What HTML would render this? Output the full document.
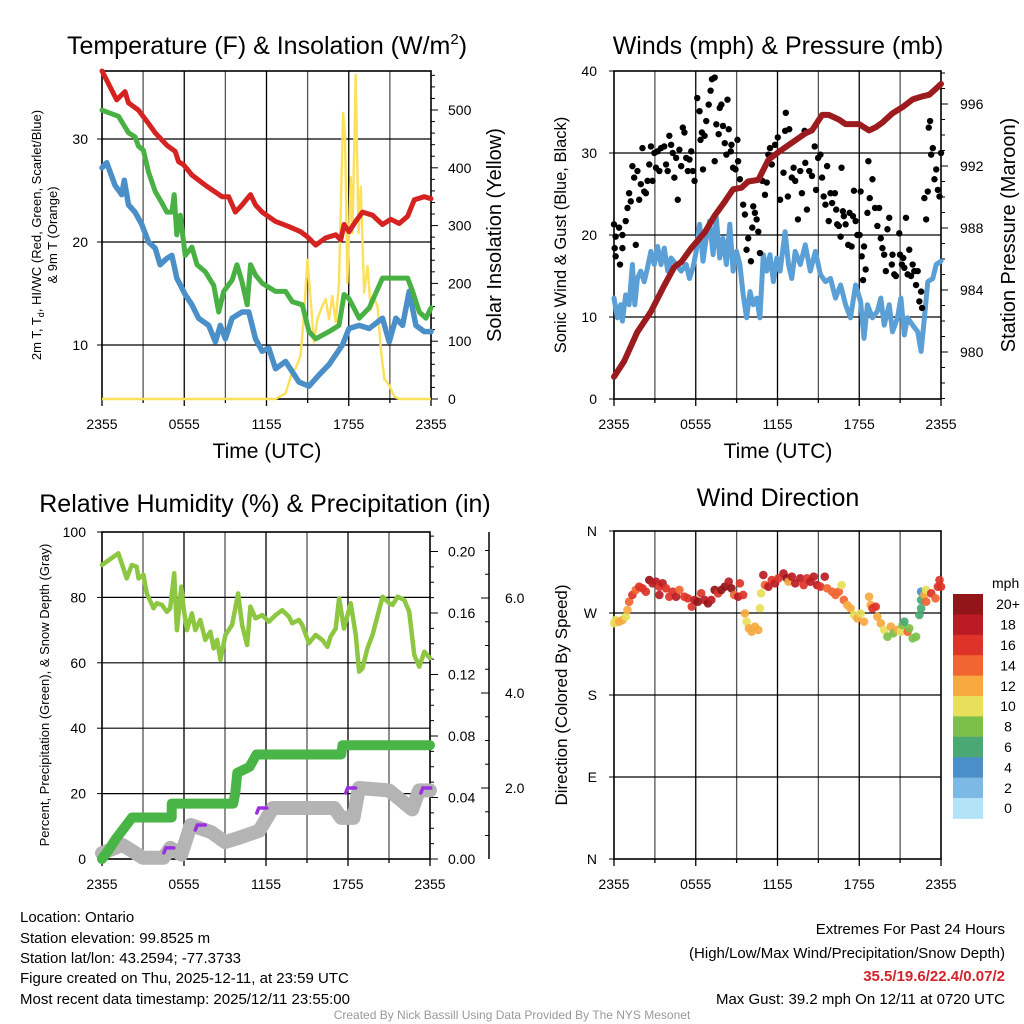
<!DOCTYPE html>
<html><head><meta charset="utf-8"><title>Mesonet Station Meteogram</title>
<style>
html,body{margin:0;padding:0;background:#fff;}
svg{display:block;font-family:"Liberation Sans",sans-serif;}
</style></head>
<body>
<svg id="chart" width="1024" height="1024" viewBox="0 0 1024 1024" xmlns="http://www.w3.org/2000/svg">
<rect width="1024" height="1024" fill="#fff"/>
<g id="layer"></g>
<!-- titles -->
<text x="267" y="54" font-size="25" text-anchor="middle">Temperature (F) &amp; Insolation (W/m<tspan font-size="15" dy="-10">2</tspan><tspan dy="10">)</tspan></text>
<text x="778" y="54" font-size="25" text-anchor="middle">Winds (mph) &amp; Pressure (mb)</text>
<text x="265" y="512" font-size="25" text-anchor="middle">Relative Humidity (%) &amp; Precipitation (in)</text>
<text x="778" y="506" font-size="25" text-anchor="middle">Wind Direction</text>
<!-- axis titles -->
<text x="267" y="458" font-size="21" text-anchor="middle">Time (UTC)</text>
<text x="778" y="458" font-size="21" text-anchor="middle">Time (UTC)</text>
<text transform="translate(41,235) rotate(-90)" font-size="13" text-anchor="middle">2m T, T<tspan font-size="9" dy="3">d</tspan><tspan dy="-3">, HI/WC (Red, Green, Scarlet/Blue)</tspan></text>
<text transform="translate(57,235) rotate(-90)" font-size="13" text-anchor="middle">&amp; 9m T (Orange)</text>
<text transform="translate(501,235) rotate(-90)" font-size="20" text-anchor="middle">Solar Insolation (Yellow)</text>
<text transform="translate(566,235) rotate(-90)" font-size="16.5" text-anchor="middle">Sonic Wind &amp; Gust (Blue, Black)</text>
<text transform="translate(1015,235) rotate(-90)" font-size="20" text-anchor="middle">Station Pressure (Maroon)</text>
<text transform="translate(49,695) rotate(-90)" font-size="13" text-anchor="middle">Percent, Precipitation (Green), &amp; Snow Depth (Gray)</text>
<text transform="translate(567,695) rotate(-90)" font-size="17" text-anchor="middle">Direction (Colored By Speed)</text>
<!-- footer -->
<g font-size="15">
<text x="20" y="922">Location: Ontario</text>
<text x="20" y="943">Station elevation: 99.8525 m</text>
<text x="20" y="963">Station lat/lon: 43.2594; -77.3733</text>
<text x="20" y="983">Figure created on Thu, 2025-12-11, at 23:59 UTC</text>
<text x="20" y="1004">Most recent data timestamp: 2025/12/11 23:55:00</text>
</g>
<g font-size="15" text-anchor="end">
<text x="1005" y="934">Extremes For Past 24 Hours</text>
<text x="1005" y="958">(High/Low/Max Wind/Precipitation/Snow Depth)</text>
<text x="1005" y="981" fill="#d2232a" font-weight="bold">35.5/19.6/22.4/0.07/2</text>
<text x="1005" y="1004">Max Gust: 39.2 mph On 12/11 at 0720 UTC</text>
</g>
<text x="512" y="1019" font-size="12" fill="#999" text-anchor="middle">Created By Nick Bassill Using Data Provided By The NYS Mesonet</text>
</svg>
<script>
// ---------- data ----------
const xTickLabels = ["2355","0555","1155","1755","2355"];
// Panel 1
const tempTicks = [10,20,30];
const solarTicks = [0,100,200,300,400,500];
const redH = [0,1.07,1.68,1.93,2.66,3.39,3.88,4.73,5.34,5.59,5.95,6.56,7.54,8.76,9.24,9.73,10.22,10.83,11.2,11.68,12.66,13.63,14.49,14.98,15.59,16.32,17.05,17.41,17.66,18.02,18.51,19.0,19.73,20.46,21.07,21.68,22.29,22.78,23.51,24];
const redT = [36.6,33.8,34.6,33.5,32.8,31.5,30.6,29.4,28.8,27.8,27.5,26.5,25.5,24.4,24.4,22.9,23.6,24.6,23.6,22.9,22.0,21.5,21.0,20.5,19.7,20.4,20.7,20.2,21.7,21.0,22.0,22.9,22.6,21.7,22.2,21.8,22.5,24.1,24.4,24.2];
const greenH = [0,1.2,1.93,2.41,2.66,3.02,3.39,3.88,4.37,4.73,5.1,5.27,5.46,5.71,6.07,6.56,6.93,7.54,8.15,8.51,8.88,9.49,9.85,10.22,10.59,10.83,11.2,11.68,12.66,13.39,13.88,14.61,15.1,15.59,16.56,17.29,17.66,18.02,18.76,19.49,20.46,21.44,22.29,22.66,23.15,23.63,24];
const greenT = [32.8,32.2,30.6,30.2,29.3,28.9,26.8,24.9,23.8,22.9,22.9,24.6,20.7,22.6,18.7,19.5,17.8,17.1,15.8,13.2,15.2,16.3,17.8,16.1,13.9,17.8,16.8,16.0,15.2,15.2,14.2,13.9,11.3,10.6,11.3,11.9,14.9,14.5,12.6,13.6,16.5,16.5,16.5,15.2,13.2,12.6,13.6];
const blueH = [0,0.34,0.95,1.44,1.63,1.93,2.41,2.9,3.39,3.88,4.24,4.73,5.1,5.46,6.07,6.56,7.05,7.78,8.27,8.63,9.0,9.49,10.22,10.71,11.2,11.68,12.17,12.66,13.39,13.88,14.37,15.1,15.83,16.56,17.54,18.02,18.76,19.49,20.46,20.95,21.44,21.93,22.41,22.9,23.51,24];
const blueT = [27.2,27.7,25.5,24.6,26.0,23.6,22.9,21.7,20.0,19.4,17.8,18.4,18.7,16.5,14.9,13.9,12.6,11.9,10.3,11.9,10.6,12.6,13.2,13.2,10.6,9.4,9.7,7.7,8.4,7.4,6.4,6.0,7.1,8.1,10.0,11.6,11.9,11.6,12.6,10.3,12.6,11.9,15.2,11.9,11.3,11.3];
const solarH = [0,12.66,13.39,13.88,14.12,14.49,14.73,14.98,15.22,15.46,15.71,16.07,16.32,16.56,16.8,17.05,17.29,17.59,17.73,17.9,18.15,18.27,18.51,18.71,18.88,19.12,19.37,19.61,19.85,20.1,20.34,20.59,20.95,21.32,21.68,24];
const solarW = [0,0,10,47,53,75,144,241,173,98,138,161,173,138,178,133,201,495,458,201,384,287,561,287,367,184,230,155,173,161,87,35,24,4,0,0];
// Panel 2
const windTicks = [0,10,20,30,40];
const pressTicks = [980,984,988,992,996];
const pressH = [0,0.74,1.72,2.71,3.69,4.43,4.93,5.67,6.65,7.39,8.13,8.74,9.36,9.85,10.59,11.33,12.07,13.05,14.04,14.53,15.27,15.76,16.5,17.0,17.98,18.72,19.21,19.7,20.44,21.18,21.92,22.66,23.15,23.65,24];
const pressMb = [978.4,979.4,981.3,982.6,984.3,985.5,985.8,986.7,987.7,988.8,989.7,990.5,990.6,991.0,991.1,992.4,992.9,993.5,994.1,994.3,995.3,995.3,995.0,994.7,994.7,994.3,994.5,994.8,995.4,995.8,996.3,996.5,996.6,997.0,997.3];
const windH = [0,0.25,0.49,0.62,0.86,1.11,1.35,1.53,1.72,1.97,2.22,2.46,2.71,2.96,3.2,3.45,3.69,3.94,4.19,4.56,4.93,5.3,5.54,5.79,6.03,6.28,6.53,6.77,7.02,7.27,7.51,7.76,8.0,8.25,8.5,8.74,8.99,9.24,9.48,9.73,9.98,10.22,10.47,10.71,10.96,11.21,11.45,11.7,11.95,12.19,12.56,12.81,13.05,13.3,13.67,14.04,14.41,14.78,15.15,15.52,15.89,16.26,16.63,17.0,17.36,17.73,18.1,18.35,18.6,18.97,19.33,19.58,19.83,20.2,20.44,20.81,21.06,21.31,21.55,21.92,22.29,22.54,22.78,23.03,23.4,23.65,24];
const windMph = [12.3,9.9,11.5,9.5,12.7,11.5,16.4,11.5,14.7,15.6,14.3,16.0,18.0,16.4,18.6,16.4,18.4,15.6,17.2,16.4,15.6,16.4,14.7,16.0,18.0,21.3,16.8,19.6,21.7,17.6,22.1,17.2,19.6,16.4,21.3,15.6,18.0,16.4,12.7,9.9,13.1,11.5,12.3,9.9,17.6,15.6,17.6,14.3,17.2,15.6,20.4,16.4,14.7,18.0,16.4,18.8,15.6,18.0,15.2,14.3,14.7,12.3,13.9,11.5,9.9,13.9,11.9,7.4,11.5,9.9,10.7,12.3,9.0,11.5,8.2,9.9,12.3,7.8,9.9,9.0,8.2,5.8,9.9,14.3,14.7,16.4,16.8];
const gustH = [0,0.12,0.05,0.12,0.37,0.44,0.62,0.62,0.86,0.99,1.11,1.23,1.35,1.48,1.6,1.72,1.85,1.97,2.09,2.22,2.34,2.46,2.59,2.71,2.83,2.96,3.08,3.2,3.33,3.45,3.69,3.82,3.94,4.06,4.19,4.31,4.43,4.56,4.68,4.8,4.93,5.05,5.17,5.3,5.42,5.54,5.67,5.79,5.91,6.11,6.28,6.35,6.45,6.53,6.65,6.77,6.95,7.09,7.19,7.39,7.39,7.51,7.68,7.76,7.88,8.0,8.13,8.25,8.33,8.42,8.57,8.62,8.74,8.92,9.06,9.11,9.24,9.48,9.61,9.73,9.85,10.05,10.15,10.22,10.34,10.47,10.59,10.71,10.89,11.08,11.21,11.33,11.45,11.58,11.82,12.02,12.19,12.44,12.56,12.61,12.76,12.86,13.05,13.18,13.3,13.5,13.67,13.79,13.99,14.04,14.16,14.33,14.53,14.73,14.83,14.98,15.15,15.27,15.39,15.52,15.64,15.76,15.89,16.01,16.21,16.31,16.38,16.5,16.63,16.7,16.8,16.87,17.0,17.19,17.29,17.44,17.54,17.61,17.73,17.86,18.03,18.1,18.18,18.28,18.35,18.47,18.6,18.67,18.77,18.97,19.16,19.33,19.46,19.58,19.7,19.83,19.95,20.07,20.2,20.39,20.44,20.57,20.69,20.94,20.99,21.13,21.23,21.31,21.43,21.55,21.67,21.8,21.92,22.04,22.17,22.29,22.41,22.54,22.61,22.78,22.91,23.03,23.1,23.2,23.28,23.4,23.52,23.65,23.77,23.89,24.0];
const gustMph = [21.3,19.8,18.4,17.4,20.9,16.4,20.0,18.4,21.7,23.3,25.1,24.1,28.4,27.0,18.8,27.8,24.3,26.2,30.6,25.3,25.1,26.6,28.6,30.8,26.6,30.0,28.2,30.2,27.8,30.6,30.8,28.6,27.8,32.1,31.0,30.0,27.0,29.4,24.3,30.4,28.4,33.1,32.5,29.4,27.8,29.2,30.2,27.8,26.6,36.7,35.1,31.6,32.5,28.0,32.1,33.9,35.9,37.6,39.0,39.2,29.0,33.5,32.3,35.5,35.9,33.3,31.2,29.8,36.5,32.9,30.2,31.0,28.2,28.0,31.6,29.0,26.8,23.7,22.5,18.2,19.6,16.8,20.9,23.5,22.7,21.9,20.4,17.8,26.6,24.9,26.4,29.8,30.6,28.6,31.0,31.9,24.3,27.6,32.7,34.9,24.7,32.9,27.0,28.2,26.6,21.9,27.8,25.1,32.7,28.8,23.1,27.8,27.2,30.8,25.5,29.4,29.8,27.0,24.7,23.7,28.4,21.7,25.1,23.9,25.1,23.1,21.3,21.1,19.8,28.2,22.9,22.3,21.3,18.8,22.7,18.6,22.3,25.4,21.7,20.0,20.0,25.3,17.4,14.5,18.6,15.8,22.7,29.0,24.5,26.8,23.3,21.1,23.3,19.6,18.4,17.6,15.6,20.7,22.1,16.4,17.6,15.2,15.0,20.2,17.6,16.4,17.2,16.0,22.1,15.2,18.2,15.0,16.4,15.6,13.9,15.6,11.9,13.1,11.1,24.5,21.9,25.3,33.1,33.9,29.8,30.6,26.8,28.0,25.5,24.7,30.0];
// Panel 3
const rhTicks = [0,20,40,60,80,100];
const precipTicks = ["0.00","0.04","0.08","0.12","0.16","0.20"];
const snowTicks = ["2.0","4.0","6.0"];
const rhH = [0,1.2,1.81,2.18,2.54,2.67,3.03,3.28,3.77,4.01,4.38,4.75,4.99,5.28,5.48,5.8,5.97,6.21,6.58,6.83,7.19,7.56,7.93,8.17,8.42,8.66,9.03,9.52,9.96,10.25,10.62,10.86,11.23,11.72,12.21,12.7,13.19,13.68,13.92,14.41,14.65,15.14,15.63,16.12,16.49,16.73,17.1,17.35,17.71,18.2,18.57,18.81,19.06,19.42,19.79,20.53,21.02,21.26,21.63,22.12,22.48,22.85,23.22,23.58,24];
const rhPct = [89.9,93.5,85.8,89.9,89.4,85.8,86.9,81.2,76.7,78.2,77.7,75.6,76.7,87.4,70.0,83.3,76.7,70.0,75.1,70.0,73.1,67.0,69.5,64.4,67.0,60.9,68.5,71.6,81.2,71.6,65.4,77.2,73.6,74.6,72.6,74.6,76.1,74.1,72.1,73.1,71.6,66.0,68.5,67.0,64.9,68.0,70.5,79.7,70.5,78.2,68.5,57.3,58.3,64.4,68.5,80.2,78.2,77.7,80.2,79.2,75.6,62.4,58.8,63.4,61.4];
const precipH = [0,0.5,1.0,1.6,2.2,5.1,5.1,9.6,9.75,9.9,10.8,11.3,17.5,17.6,24];
const precipIn = [0,0.006,0.013,0.02,0.027,0.027,0.036,0.036,0.043,0.056,0.060,0.068,0.068,0.074,0.074];
const snowH = [0,1.5,3,4.5,5,5.8,6.5,8,9,10,11.5,12.5,17,17.5,18.4,18.8,21,22.7,23.2,24];
const snowIn = [0.63,0.8,0.53,0.53,0.74,0.6,1.22,1.07,0.86,0.95,1.1,1.58,1.58,1.37,1.37,2.0,1.95,1.55,1.95,1.95];
const snowMarkH = [4.6,6.9,11.4,17.9,23.4];
const snowMarkV = [0.74,1.22,1.58,2.0,2.0];
// Panel 4
const dirLabels = ["N","W","S","E","N"];
const dirTicks = [360,270,180,90,0];
const speedBins = ["0","2","4","6","8","10","12","14","16","18","20+"];
const dirH = [0,0.12,0.37,0.62,0.86,0.99,1.11,1.35,1.6,1.85,2.09,2.34,2.59,2.83,3.08,3.33,3.33,3.57,3.82,4.06,4.31,4.56,4.8,5.17,5.42,5.71,5.91,6.16,6.4,6.65,6.9,7.14,7.39,7.64,7.88,8.13,8.42,8.62,8.82,9.11,9.24,9.48,9.61,9.73,9.9,10.1,10.34,10.59,10.71,10.79,10.96,11.08,11.33,11.58,11.82,12.07,12.44,12.68,12.81,13.05,13.3,13.67,13.92,14.16,14.41,14.66,14.9,15.15,15.47,15.64,16.01,16.26,16.5,16.7,16.87,17.12,17.36,17.61,17.86,18.1,18.35,18.72,18.84,18.97,19.21,19.33,19.58,19.83,20.07,20.32,20.49,20.81,21.06,21.18,21.31,21.55,21.67,21.92,22.17,22.41,22.54,22.54,22.54,22.78,22.91,22.91,23.28,23.6,23.77,23.89,24];
const dirDeg = [258.7,262.3,260.5,262.3,266,273.3,282.4,289.8,295.3,298.9,297.1,293.4,306.2,302.6,304.4,298.9,289.8,302.6,297.1,287.9,293.4,287.9,295.3,287.9,286.1,277,284.3,282.4,291.6,284.3,280.6,284.3,295.3,291.6,295.3,298.9,304.4,297.1,289.8,287.9,302.6,289.8,269.6,260.5,253.2,249.5,255,251.4,275.1,291.6,311.7,300.7,298.9,306.2,302.6,308.1,313.5,308.1,304.4,309.9,302.6,308.1,300.7,308.1,304.4,309.9,300.7,298.9,309.9,297.1,293.4,289.8,293.4,300.7,284.3,278.8,275.1,267.8,264.2,269.6,260.5,287.9,278.8,275.1,277,266,258.7,251.4,244,255,247.7,251.4,249.5,256.8,260.5,249.5,253.2,242.2,244,267.8,275.1,284.3,293.4,289.8,295.3,282.4,291.6,286.1,298.9,306.2,298.9];
const dirSpd = [11,10,12,12,11,12,15,16,15,16,16,17,20,19,18,17,18,18,16,17,16,18,15,16,17,16,18,20,17,19,20,19,20,17,20,20,19,20,14,18,16,16,12,10,12,12,12,12,10,10,18,14,18,17,18,16,18,21,12,18,19,18,17,17,18,18,18,16,18,14,14,14,14,10,14,13,12,11,12,11,12,12,13,17,16,12,12,11,8,12,9,12,11,8,7,15,8,8,8,6,6,6,4,12,10,14,16,14,16,16,16];

// ---------- helpers ----------
const NS = "http://www.w3.org/2000/svg";
const layer = document.getElementById('layer');
function mk(tag, attrs, parent){ const e=document.createElementNS(NS,tag); for(const k in attrs) e.setAttribute(k,attrs[k]); (parent||layer).appendChild(e); return e; }
function pathFrom(hs, vs, sx, sy){ let d=''; for(let i=0;i<hs.length;i++){ d+=(i?'L':'M')+sx(hs[i]).toFixed(1)+','+sy(vs[i]).toFixed(1); } return d; }
function speedColor(s){ const c=["#b3e3f7","#7cb9e4","#4a8fc7","#4aa874","#7cc04a","#e8e05a","#f7a940","#f06530","#dd3328","#bb1c24","#921519"]; return c[Math.min(10,Math.max(0,Math.floor(s/2)))]; }

function frame(x0,x1,y0,y1,hGridYs,name,xLabelY){
  const g=mk('g',{});
  
  
  for(let k=1;k<8;k++){ const x=x0+(x1-x0)*k/8; const l=mk('line',{x1:x,x2:x,y1:y0,y2:y1,stroke:(k%2?'#555':'#000'),'stroke-width':1.3},g);
      }
  hGridYs.forEach(y=>{ const l=mk('line',{x1:x0,x2:x1,y1:y,y2:y,stroke:'#000','stroke-width':1.2},g);
      });
  const r=mk('rect',{x:x0,y:y0,width:x1-x0,height:y1-y0,fill:'none',stroke:'#000','stroke-width':1.6},g);
   
  for(let k=0;k<=8;k++){ const x=x0+(x1-x0)*k/8; mk('line',{x1:x,x2:x,y1:y1,y2:y1+(k%2?4:7),stroke:'#000','stroke-width':1.3},g); }
  xTickLabels.forEach((t,i)=>{ const tx=mk('text',{x:x0+(x1-x0)*i/4,y:xLabelY,'font-size':14,'text-anchor':'middle'},g); tx.textContent=t;
      });
  return g;
}

// ---------- Panel 1 ----------
(function(){
  const x0=102,x1=431,y0=71,y1=399;
  const sx=h=>x0+h/24*(x1-x0);
  const sy=t=>345-(t-10)*10.3;
  const ss=w=>399-w*0.578;
  const g=frame(x0,x1,y0,y1,tempTicks.map(sy),'temperature',429);
  tempTicks.forEach(t=>{ const tx=mk('text',{x:88,y:sy(t)+5,'font-size':14,'text-anchor':'end'},g); tx.textContent=t;
     
    mk('line',{x1:x0-5,x2:x0,y1:sy(t),y2:sy(t),stroke:'#000'},g); });
  for(let w=0;w<=560;w+=20){ mk('line',{x1:x1,x2:x1+(w%100?4:7),y1:ss(w),y2:ss(w),stroke:'#000'},g); }
  solarTicks.forEach(w=>{ const tx=mk('text',{x:448,y:ss(w)+5,'font-size':14},g); tx.textContent=w;
      });
  const s=mk('path',{d:pathFrom(solarH,solarW,sx,ss),fill:'none',stroke:'#fbe05a','stroke-width':2.4,'stroke-linejoin':'round'});
   
  const b=mk('path',{d:pathFrom(blueH,blueT,sx,sy),fill:'none',stroke:'#4a8fc8','stroke-width':5.5,'stroke-linejoin':'round','stroke-linecap':'round'});
   
  const gr=mk('path',{d:pathFrom(greenH,greenT,sx,sy),fill:'none',stroke:'#49b043','stroke-width':5,'stroke-linejoin':'round','stroke-linecap':'round'});
   
  const r=mk('path',{d:pathFrom(redH,redT,sx,sy),fill:'none',stroke:'#d52322','stroke-width':5,'stroke-linejoin':'round','stroke-linecap':'round'});
   
})();

// ---------- Panel 2 ----------
(function(){
  const x0=614,x1=941,y0=71,y1=399;
  const sx=h=>x0+h/24*(x1-x0);
  const sw=v=>399-v*8.2;
  const sp=p=>352-(p-980)*15.5;
  const g=frame(x0,x1,y0,y1,windTicks.slice(1,4).map(sw),'winds',429);
  windTicks.forEach(v=>{ const tx=mk('text',{x:597,y:sw(v)+5,'font-size':14,'text-anchor':'end'},g); tx.textContent=v;
     
    mk('line',{x1:x0-5,x2:x0,y1:sw(v),y2:sw(v),stroke:'#000'},g); });
  for(let p=977;p<=998;p++){ mk('line',{x1:x1,x2:x1+((p%4)?4:7),y1:sp(p),y2:sp(p),stroke:'#000'},g); }
  pressTicks.forEach(p=>{ const tx=mk('text',{x:960,y:sp(p)+5,'font-size':14},g); tx.textContent=p;
      });
  const w=mk('path',{d:pathFrom(windH,windMph,sx,sw),fill:'none',stroke:'#5a9fd6','stroke-width':5,'stroke-linejoin':'round','stroke-linecap':'round'});
   
  const gg=mk('g',{});
   
  for(let i=0;i<gustH.length;i++){ const c=mk('circle',{cx:sx(gustH[i]),cy:sw(gustMph[i]),r:3.2,fill:'#000'},gg);
      }
  const p=mk('path',{d:pathFrom(pressH,pressMb,sx,sp),fill:'none',stroke:'#9b1b1e','stroke-width':6,'stroke-linejoin':'round','stroke-linecap':'round'});
   
})();

// ---------- Panel 3 ----------
(function(){
  const x0=102,x1=430,y0=532,y1=859;
  const sx=h=>x0+h/24*(x1-x0);
  const sr=v=>859-v*3.27;
  const spr=v=>859-v*1537.5;
  const ssn=v=>883-v*47.5;
  const g=frame(x0,x1,y0,y1,[20,40,60,80].map(sr),'humidity',889);
  rhTicks.forEach(v=>{ const tx=mk('text',{x:86,y:sr(v)+5,'font-size':14,'text-anchor':'end'},g); tx.textContent=v;
     
    mk('line',{x1:x0-5,x2:x0,y1:sr(v),y2:sr(v),stroke:'#000'},g); });
  for(let k=0;k<=21;k++){ const v=k*0.01; mk('line',{x1:x1,x2:x1+(k%4?4:8),y1:spr(v),y2:spr(v),stroke:'#000'},g); }
  precipTicks.forEach(t=>{ const tx=mk('text',{x:448,y:spr(parseFloat(t))+5,'font-size':14},g); tx.textContent=t;
      });
  const ax=mk('line',{x1:489,x2:489,y1:532,y2:859,stroke:'#000','stroke-width':1.5},g);
   
  for(let k=1;k<=14;k++){ const v=k*0.5; const y=ssn(v); if(y<532||y>859) continue; mk('line',{x1:489,x2:489-(k%4?4:8),y1:y,y2:y,stroke:'#000'},g); }
  snowTicks.forEach(t=>{ const tx=mk('text',{x:505,y:ssn(parseFloat(t))+5,'font-size':14},g); tx.textContent=t;
      });
  const sn=mk('path',{d:pathFrom(snowH,snowIn,sx,ssn),fill:'none',stroke:'#b4b4b4','stroke-width':14,'stroke-linejoin':'round','stroke-linecap':'round'});
   
  for(let i=0;i<snowMarkH.length;i++){ const x=sx(snowMarkH[i]), y=ssn(snowMarkV[i]);
    const m=mk('path',{d:'M'+(x-1)+','+(y+5)+'L'+(x+1)+','+y+'L'+(x+9)+','+y,fill:'none',stroke:'#9b30e0','stroke-width':3.5,'stroke-linecap':'round'});
      }
  const pr=mk('path',{d:pathFrom(precipH,precipIn,sx,spr),fill:'none',stroke:'#48b546','stroke-width':10,'stroke-linejoin':'round','stroke-linecap':'round'});
   
  const rh=mk('path',{d:pathFrom(rhH,rhPct,sx,sr),fill:'none',stroke:'#8dc641','stroke-width':4.5,'stroke-linejoin':'round','stroke-linecap':'round'});
   
})();

// ---------- Panel 4 ----------
(function(){
  const x0=614,x1=941,y0=531,y1=859;
  const sx=h=>x0+h/24*(x1-x0);
  const sd=d=>859-d*(328/360);
  const g=frame(x0,x1,y0,y1,[270,180,90].map(sd),'wind-direction',889);
  dirTicks.forEach((d,i)=>{ const tx=mk('text',{x:597,y:sd(d)+5,'font-size':14,'text-anchor':'end'},g); tx.textContent=dirLabels[i];
     
    mk('line',{x1:x0-5,x2:x0,y1:sd(d),y2:sd(d),stroke:'#000'},g); });
  const dg=mk('g',{});
   
  for(let i=0;i<dirH.length;i++){ const c=mk('circle',{cx:sx(dirH[i]),cy:sd(dirDeg[i]),r:4.3,fill:speedColor(dirSpd[i]),'fill-opacity':0.92},dg);
      }
  const cb=mk('g',{});
   
  const t=mk('text',{x:992,y:588,'font-size':14},cb); t.textContent='mph';
   
  const top=594, bh=20.4;
  for(let k=0;k<speedBins.length;k++){ const idx=speedBins.length-1-k;
    const r=mk('rect',{x:953,y:top+k*bh,width:30,height:bh+0.5,fill:speedColor(idx*2)},cb);
     
    const l=mk('text',{x:1008,y:top+k*bh+bh/2+5,'font-size':14,'text-anchor':'middle'},cb); l.textContent=speedBins[idx];
      }
})();
</script>
</body></html>
